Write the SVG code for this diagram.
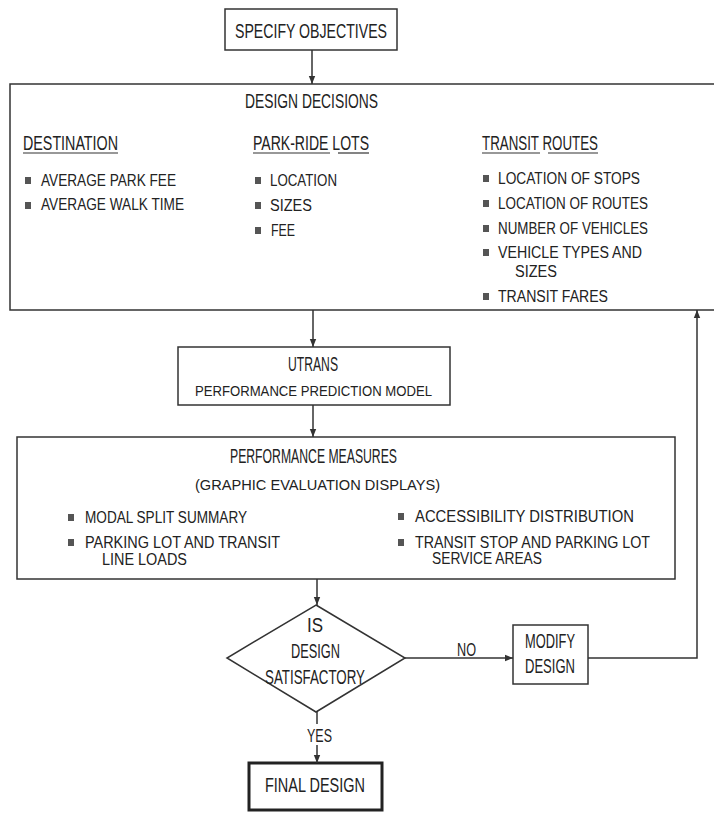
<svg xmlns="http://www.w3.org/2000/svg" width="715" height="813" viewBox="0 0 715 813">
<defs>
<marker id="ah" viewBox="0 0 10 10" refX="10" refY="5" markerWidth="8" markerHeight="8" markerUnits="userSpaceOnUse" orient="auto"><path d="M0,1 L10,5 L0,9 z" fill="#333"/></marker>
</defs>
<style>
.bx{fill:none;stroke:#333;stroke-width:1.5}
.ln{fill:none;stroke:#333;stroke-width:1.5}
.ul{stroke:#333;stroke-width:1.2}
text{font-family:"Liberation Sans",Arial,sans-serif;fill:#222}
.it{font-size:16px}
.sm{font-size:14px}
.hd{font-size:21px}
.lb{font-size:18px}
.bu{fill:#555}
</style>
<rect width="715" height="813" fill="#fff"/>

<g id="specify">
<rect class="bx" x="225" y="9" width="172" height="41"/>
<text class="hd" x="235" y="38" textLength="152" lengthAdjust="spacingAndGlyphs">SPECIFY OBJECTIVES</text>
</g>

<g id="design-decisions">
<path class="bx" d="M714,84 H10 V310 H714"/>
<text class="hd" x="245" y="108" textLength="133" lengthAdjust="spacingAndGlyphs">DESIGN DECISIONS</text>
<text class="hd" x="23" y="150" textLength="95" lengthAdjust="spacingAndGlyphs">DESTINATION</text>
<line class="ul" x1="23" y1="153" x2="118" y2="153"/>
<text class="hd" x="253" y="150" textLength="116" lengthAdjust="spacingAndGlyphs">PARK-RIDE LOTS</text>
<line class="ul" x1="253" y1="153" x2="330" y2="153"/>
<line class="ul" x1="338" y1="153" x2="369" y2="153"/>
<text class="hd" x="482" y="150" textLength="116" lengthAdjust="spacingAndGlyphs">TRANSIT ROUTES</text>
<line class="ul" x1="482" y1="153" x2="540" y2="153"/>
<line class="ul" x1="548" y1="153" x2="598" y2="153"/>

<rect class="bu" x="25" y="177" width="6" height="7"/>
<text class="it" x="41" y="186" textLength="135" lengthAdjust="spacingAndGlyphs">AVERAGE PARK FEE</text>
<rect class="bu" x="25" y="202" width="6" height="7"/>
<text class="it" x="41" y="210" textLength="143" lengthAdjust="spacingAndGlyphs">AVERAGE WALK TIME</text>

<rect class="bu" x="255" y="177" width="6" height="7"/>
<text class="it" x="270" y="186" textLength="67" lengthAdjust="spacingAndGlyphs">LOCATION</text>
<rect class="bu" x="255" y="202" width="6" height="7"/>
<text class="it" x="270" y="211" textLength="42" lengthAdjust="spacingAndGlyphs">SIZES</text>
<rect class="bu" x="255" y="227" width="6" height="7"/>
<text class="it" x="271" y="236" textLength="24" lengthAdjust="spacingAndGlyphs">FEE</text>

<rect class="bu" x="483" y="175" width="6" height="7"/>
<text class="it" x="498" y="184" textLength="142" lengthAdjust="spacingAndGlyphs">LOCATION OF STOPS</text>
<rect class="bu" x="483" y="200" width="6" height="7"/>
<text class="it" x="498" y="209" textLength="150" lengthAdjust="spacingAndGlyphs">LOCATION OF ROUTES</text>
<rect class="bu" x="483" y="225" width="6" height="7"/>
<text class="it" x="498" y="234" textLength="150" lengthAdjust="spacingAndGlyphs">NUMBER OF VEHICLES</text>
<rect class="bu" x="483" y="249" width="6" height="7"/>
<text class="it" x="498" y="258" textLength="144" lengthAdjust="spacingAndGlyphs">VEHICLE TYPES AND</text>
<text class="it" x="515" y="277" textLength="42" lengthAdjust="spacingAndGlyphs">SIZES</text>
<rect class="bu" x="483" y="293" width="6" height="7"/>
<text class="it" x="498" y="302" textLength="110" lengthAdjust="spacingAndGlyphs">TRANSIT FARES</text>
</g>

<g id="utrans">
<rect class="bx" x="178" y="347" width="272" height="58"/>
<text class="hd" x="288" y="371" textLength="50" lengthAdjust="spacingAndGlyphs">UTRANS</text>
<text class="sm" x="195" y="396" textLength="237" lengthAdjust="spacingAndGlyphs">PERFORMANCE PREDICTION MODEL</text>
</g>

<g id="performance">
<rect class="bx" x="17" y="437" width="658" height="142"/>
<text class="hd" x="230" y="463" textLength="167" lengthAdjust="spacingAndGlyphs">PERFORMANCE MEASURES</text>
<text class="sm" x="195" y="490" textLength="245" lengthAdjust="spacingAndGlyphs">(GRAPHIC EVALUATION DISPLAYS)</text>
<rect class="bu" x="68" y="514" width="6" height="7"/>
<text class="it" x="85" y="523" textLength="162" lengthAdjust="spacingAndGlyphs">MODAL SPLIT SUMMARY</text>
<rect class="bu" x="68" y="539" width="6" height="7"/>
<text class="it" x="85" y="548" textLength="195" lengthAdjust="spacingAndGlyphs">PARKING LOT AND TRANSIT</text>
<text class="it" x="102" y="565" textLength="85" lengthAdjust="spacingAndGlyphs">LINE LOADS</text>
<rect class="bu" x="398" y="513" width="6" height="7"/>
<text class="it" x="415" y="522" textLength="219" lengthAdjust="spacingAndGlyphs">ACCESSIBILITY DISTRIBUTION</text>
<rect class="bu" x="398" y="539" width="6" height="7"/>
<text class="it" x="415" y="548" textLength="235" lengthAdjust="spacingAndGlyphs">TRANSIT STOP AND PARKING LOT</text>
<text class="it" x="432" y="564" textLength="110" lengthAdjust="spacingAndGlyphs">SERVICE AREAS</text>
</g>

<g id="decision">
<polygon class="bx" points="316,605 405,658 316,712 227,658"/>
<text class="hd" x="307" y="632" textLength="16" lengthAdjust="spacingAndGlyphs">IS</text>
<text class="hd" x="291" y="658" textLength="49" lengthAdjust="spacingAndGlyphs">DESIGN</text>
<text class="hd" x="265" y="684" textLength="100" lengthAdjust="spacingAndGlyphs">SATISFACTORY</text>
</g>

<g id="modify">
<rect class="bx" x="513" y="625" width="75" height="59"/>
<text class="hd" x="525" y="648" textLength="50" lengthAdjust="spacingAndGlyphs">MODIFY</text>
<text class="hd" x="525" y="673" textLength="50" lengthAdjust="spacingAndGlyphs">DESIGN</text>
</g>

<g id="final">
<rect x="249" y="763" width="133" height="47" fill="none" stroke="#222" stroke-width="3"/>
<text class="hd" x="265" y="792" textLength="100" lengthAdjust="spacingAndGlyphs">FINAL DESIGN</text>
</g>

<g id="connectors">
<path class="ln" d="M312,50 V84" marker-end="url(#ah)"/>
<path class="ln" d="M313,310 V347" marker-end="url(#ah)"/>
<path class="ln" d="M313,405 V437" marker-end="url(#ah)"/>
<path class="ln" d="M317,579 V605" marker-end="url(#ah)"/>
<path class="ln" d="M405,658 H513" marker-end="url(#ah)"/>
<path class="ln" d="M317,712 V724"/>
<path class="ln" d="M317,745 V763" marker-end="url(#ah)"/>
<path class="ln" d="M588,658 H697 V310" marker-end="url(#ah)"/>
<text class="lb" x="457" y="656" textLength="19" lengthAdjust="spacingAndGlyphs">NO</text>
<text class="lb" x="307" y="742" textLength="25" lengthAdjust="spacingAndGlyphs">YES</text>
</g>
</svg>
